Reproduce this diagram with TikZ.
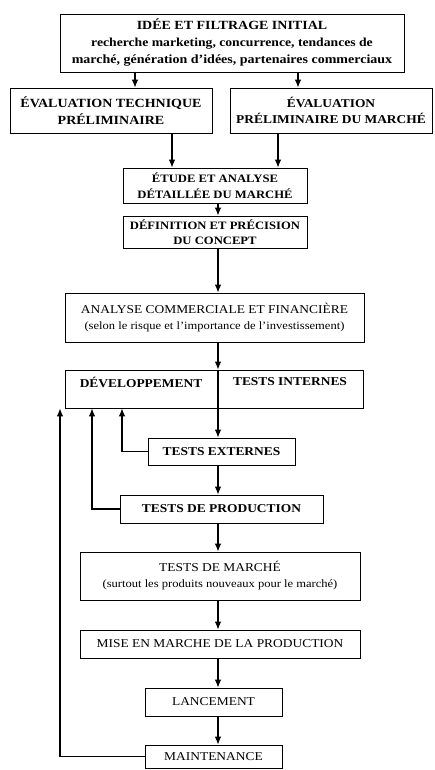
\documentclass[tikz,border=0pt]{standalone}
\usepackage{fontspec}
\setmainfont[FakeStretch=1.12]{Liberation Serif}
\usepackage{tikz}
\usetikzlibrary{arrows.meta,positioning,calc}
\newcommand{\grand}{\fontsize{12}{16}\selectfont}
\newcommand{\haut}{\fontsize{12.5}{17}\selectfont}
\newcommand{\moyen}{\fontsize{11.3}{15.5}\selectfont}
\newcommand{\petit}{\fontsize{11.2}{15}\selectfont}
\newcommand{\etape}[6]{
  \node[draw,line width=0.8pt,minimum width=#3,minimum height=#4,align=center,inner sep=1pt,font=#5] (#1) at #2 {#6};
}

\begin{document}
\begin{tikzpicture}[x=1pt,y=-1pt,>={Latex[length=8pt,width=6.5pt]},flux/.style={->,line width=1.1pt}]
  \useasboundingbox (0,0) rectangle (434,770);
  \etape{idee}{(232,43)}{344pt}{58pt}{\haut\bfseries}{IDÉE ET FILTRAGE INITIAL\\ \fontsize{12.2}{17}\selectfont recherche marketing, concurrence, tendances de\\ marché, génération d'idées, partenaires commerciaux}
  \etape{evaltech}{(111,110.5)}{202pt}{45pt}{\haut\bfseries}{ÉVALUATION TECHNIQUE\\ PRÉLIMINAIRE}
  \etape{evalmarche}{(331,110.5)}{202pt}{45pt}{\grand\bfseries}{ÉVALUATION\\ PRÉLIMINAIRE DU MARCHÉ}
  \etape{etude}{(215,185.5)}{184pt}{35pt}{\moyen\bfseries}{ÉTUDE ET ANALYSE\\ DÉTAILLÉE DU MARCHÉ}
  \etape{definition}{(215,232)}{184pt}{32pt}{\moyen\bfseries}{DÉFINITION ET PRÉCISION\\ DU CONCEPT}
  \etape{analyse}{(214.5,317.5)}{299pt}{49pt}{\grand}{ANALYSE COMMERCIALE ET FINANCIÈRE\\ \petit (selon le risque et l'importance de l'investissement)}
  \etape{dev}{(214,389)}{298pt}{38pt}{\grand}{}
  \node[font=\grand\bfseries] (devlabel) at (141,382) {DÉVELOPPEMENT};
  \node[font=\grand\bfseries] (internes) at (290,382) {TESTS INTERNES};
  \etape{externes}{(221.5,451.5)}{147pt}{27pt}{\grand\bfseries}{TESTS EXTERNES}
  \etape{production}{(221.5,509)}{203pt}{28pt}{\grand\bfseries}{TESTS DE PRODUCTION}
  \etape{marche}{(220,576)}{280pt}{48pt}{\grand}{TESTS DE MARCHÉ\\ \petit (surtout les produits nouveaux pour le marché)}
  \etape{mise}{(220,644)}{280pt}{28pt}{\grand}{MISE EN MARCHE DE LA PRODUCTION}
  \etape{lancement}{(213.5,702)}{137pt}{28pt}{\grand}{LANCEMENT}
  \etape{maintenance}{(213.5,756.5)}{137pt}{23pt}{\grand}{MAINTENANCE}
  \coordinate (a1) at (135,0);
  \coordinate (a2) at (298,0);
  \coordinate (b1) at (172,0);
  \coordinate (b2) at (278,0);
  \coordinate (m) at (218,0);
  \coordinate (r1) at (122,0);
  \coordinate (r2) at (92,0);
  \coordinate (r3) at (60,0);
  \draw[flux] (idee.south -| a1) -- (evaltech.north -| a1);
  \draw[flux] (idee.south -| a2) -- (evalmarche.north -| a2);
  \draw[flux] (evaltech.south -| b1) -- (etude.north -| b1);
  \draw[flux] (evalmarche.south -| b2) -- (etude.north -| b2);
  \draw[flux] (etude.south -| m) -- (definition.north -| m);
  \draw[flux] (definition.south -| m) -- (analyse.north -| m);
  \draw[flux] (analyse.south -| m) -- (dev.north -| m);
  \draw[flux] (dev.north -| m) -- (externes.north -| m);
  \draw[flux] (externes.south -| m) -- (production.north -| m);
  \draw[flux] (production.south -| m) -- (marche.north -| m);
  \draw[flux] (marche.south -| m) -- (mise.north -| m);
  \draw[flux] (mise.south -| m) -- (lancement.north -| m);
  \draw[flux] (lancement.south -| m) -- (maintenance.north -| m);
  \draw[flux] (externes.west) -| (dev.south -| r1);
  \draw[flux] (production.west) -| (dev.south -| r2);
  \draw[flux] (maintenance.west) -| (dev.south -| r3);
\end{tikzpicture}
\end{document}
